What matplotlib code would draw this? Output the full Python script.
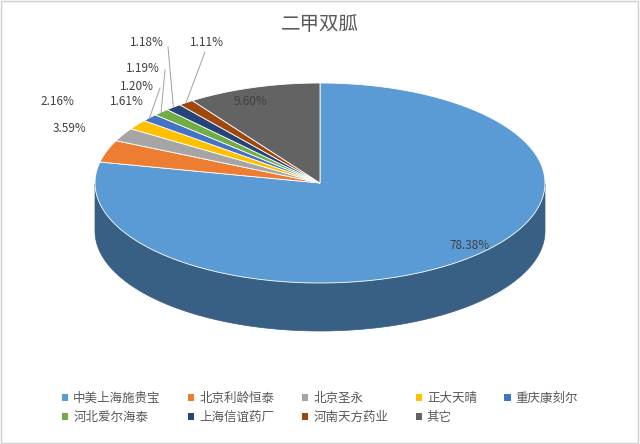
import numpy as np
import matplotlib
matplotlib.use("Agg")
import matplotlib.pyplot as plt
from matplotlib.patches import Polygon, Patch
import matplotlib.colors as mc

plt.rcParams['font.family'] = ['Noto Sans CJK SC', 'DejaVu Sans']

labels = ['中美上海施贵宝', '北京利龄恒泰', '北京圣永', '正大天晴', '重庆康刻尔',
          '河北爱尔海泰', '上海信谊药厂', '河南天方药业', '其它']
values = [78.38, 3.59, 2.16, 1.61, 1.20, 1.19, 1.18, 1.11, 9.60]
colors = ['#5B9BD5', '#ED7D31', '#A5A5A5', '#FFC000', '#4472C4',
          '#70AD47', '#264478', '#9E480E', '#636363']

fig = plt.figure(figsize=(6.4, 4.44), dpi=100)
ax = fig.add_axes([0, 0, 1, 1])
ax.set_xlim(0, 640); ax.set_ylim(444, 0); ax.axis('off')
fig.patches.append(plt.Rectangle((0.002, 0.003), 0.995, 0.994, transform=fig.transFigure,
                                 fill=False, ec='#d0d0d0', lw=1))

cx, cy, rx, ry, depth = 320, 183, 225, 100, 48
def pt(a):
    return cx + rx*np.cos(a), cy - ry*np.sin(a)

def dark(c, f=0.62):
    r, g, b = mc.to_rgb(c); return (r*f, g*f, b*f)

total = sum(values)
starts = []
a0 = np.pi/2
for v in values:
    a1 = a0 - 2*np.pi*v/total
    starts.append((a0, a1)); a0 = a1

for (s, e), c in zip(starts, colors):
    ang = np.linspace(e, s, 400)
    mask = np.sin(ang) <= 0
    if mask.sum() < 2: continue
    a = ang[mask]
    x, y = pt(a)
    poly = np.column_stack([np.r_[x, x[::-1]], np.r_[y, y[::-1] + depth]])
    ax.add_patch(Polygon(poly, closed=True, fc=dark(c), ec=dark(c), lw=0.5))

for (s, e), c in zip(starts, colors):
    ang = np.linspace(s, e, 300)
    x, y = pt(ang)
    poly = np.column_stack([np.r_[cx, x], np.r_[cy, y]])
    ax.add_patch(Polygon(poly, closed=True, fc=c, ec='white', lw=0.6))

ax.text(320, 24, '二甲双胍', ha='center', va='center', fontsize=14, color='#595959')

pct = [f'{v:.2f}%' for v in values]
lab_pos = [(470, 245), (70, 128), (57, 101), (127, 101), (137, 86),
           (143, 68), (147, 43), (207, 43), (250, 101)]
for p, (lx, ly) in zip(pct, lab_pos):
    ax.text(lx, ly, p, ha='center', va='center', fontsize=8.5, color='#404040')
lines = [None, None, None, None, (160, 88), (165, 70), (168, 47), (205, 52), None]
for (s, e), ln in zip(starts, lines):
    if ln is None: continue
    m = (s + e) / 2
    x, y = pt(m)
    ax.plot([ln[0], x], [ln[1], y], color='#a0a0a0', lw=0.7)

order = [0, 5, 1, 6, 2, 7, 3, 8, 4]
handles = [Patch(fc=colors[i], ec='none') for i in order]
fig.legend(handles, [labels[i] for i in order], loc='lower center', ncol=5, frameon=False,
           bbox_to_anchor=(0.5, 0.02), fontsize=9, handlelength=0.5, handleheight=0.5,
           columnspacing=2.2, labelcolor='#595959', handletextpad=0.4)

fig.savefig('out.png', dpi=100)
